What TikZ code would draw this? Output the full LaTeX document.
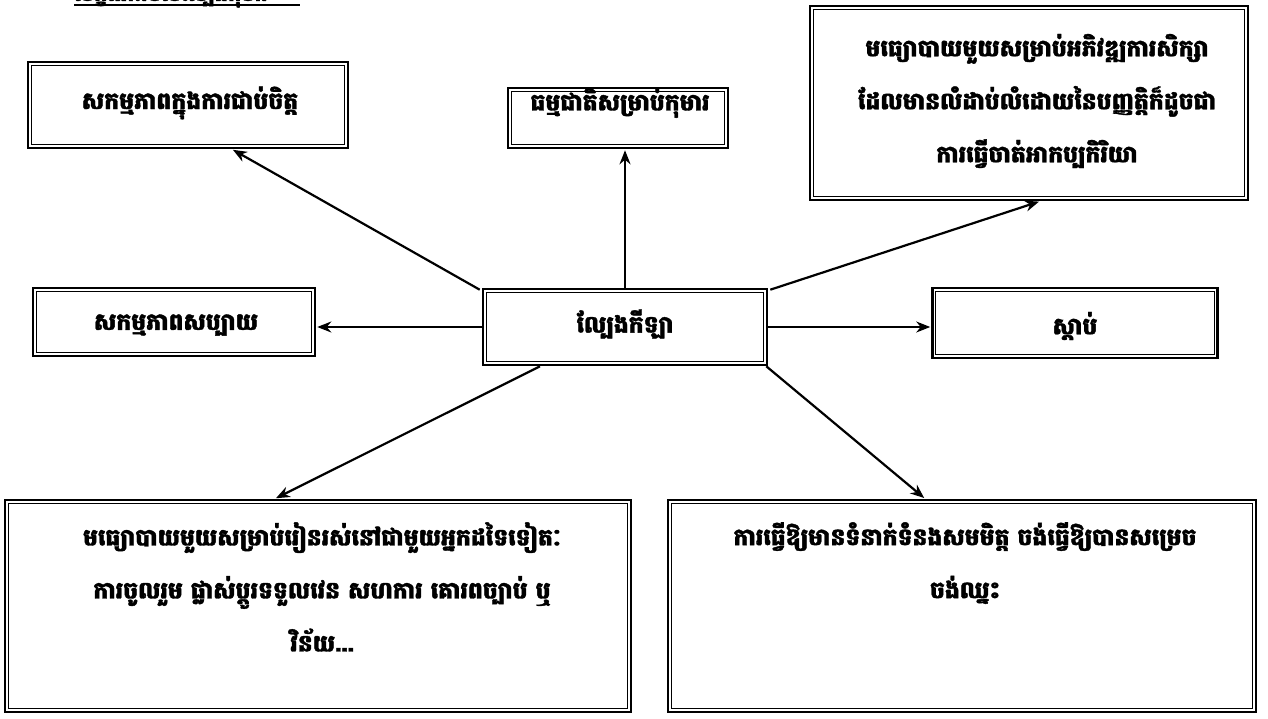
\documentclass[tikz,border=0pt]{standalone}
\usepackage{fontspec}
\newfontfamily\kh[Script=Khmer, FakeBold=1.5]{Battambang}
\usetikzlibrary{arrows.meta}
\begin{document}
\begin{tikzpicture}[x=1pt,y=-1pt,
  box/.style={draw=black, line width=2.6pt, inner sep=0pt},
  txt/.style={inner sep=0pt, align=center, font=\kh\bfseries\fontsize{23.5}{53}\selectfont},
  conn/.style={line width=2.2pt, -{Stealth[length=14pt,width=11pt]}, shorten >=1pt}]
\useasboundingbox (0,0) rectangle (1268,719);
\fill[white] (0,0) rectangle (1268,719);
% title (cut off at the top edge, as in the reference)
\node[anchor=base west, inner sep=0pt, font=\kh\bfseries\itshape\fontsize{21}{22}\selectfont] (title) at (74,1) {លក្ខណៈរបស់ល្បែងកុមារ};
\draw[line width=1.4pt] (title.base west) ++(0,4) -- ++(226,0);
% boxes
\node[box, minimum width=320pt, minimum height=86pt] (tl) at (188,105) {};
\node[box, minimum width=220pt, minimum height=60pt] (tm) at (618,118) {};
\node[box, minimum width=438pt, minimum height=194pt] (tr) at (1029,103) {};
\node[box, minimum width=282pt, minimum height=68pt] (lm) at (174,322) {};
\node[box, minimum width=284pt, minimum height=76pt] (ct) at (625,327) {};
\node[box, minimum width=285pt, minimum height=70pt] (rm) at (1075,323) {};
\node[box, minimum width=626pt, minimum height=212pt] (bl) at (318,606) {};
\node[box, minimum width=588pt, minimum height=212pt] (br) at (962,606) {};
\foreach \n in {tl,tm,tr,lm,ct,rm,bl,br}
  \draw[line width=1pt] ([shift={(4.5,4.5)}]\n.north west) rectangle ([shift={(-4.5,-4.5)}]\n.south east);
% texts
\node[txt] (tlt) at (190,103) {សកម្មភាពក្នុងការជាប់ចិត្ត};
\node[txt] (tmt) at (620,103) {ធម្មជាតិសម្រាប់កុមារ};
\node[txt] (trt) at (1037,101) {មធ្យោបាយមួយសម្រាប់អភិវឌ្ឍការសិក្សា\\ដែលមានលំដាប់លំដោយនៃបញ្ញត្តិក៏ដូចជា\\ការធ្វើចាត់អាកប្បកិរិយា};
\node[txt] (lmt) at (176,325) {សកម្មភាពសប្បាយ};
\node[txt] (ctt) at (625,324) {ល្បែងកីឡា};
\node[txt] (rmt) at (1075,326) {ស្ដាប់};
\node[txt, anchor=north] (blt) at (322,522) {មធ្យោបាយមួយសម្រាប់រៀនរស់នៅជាមួយអ្នកដទៃទៀតៈ\\ការចូលរួម ផ្លាស់ប្តូរទទួលវេន សហការ គោរពច្បាប់ ឬ\\វិន័យ...};
\node[txt, anchor=north] (brt) at (965,522) {ការធ្វើឱ្យមានទំនាក់ទំនងសមមិត្ត ចង់ធ្វើឱ្យបានសម្រេច\\ចង់ឈ្នះ};
% connectors
\draw[conn] ([shift={(-2,2)}]ct.north west) -- ([xshift=44]tl.south);
\draw[conn] (ct.north) -- (ct.north |- tm.south);
\draw[conn] ([shift={(2,2)}]ct.north east) -- ([xshift=11]tr.south);
\draw[conn] (ct.west) -- (ct.west -| lm.east);
\draw[conn] (ct.east) -- (ct.east -| rm.west);
\draw[conn] ([xshift=-85]ct.south) -- ([xshift=-43]bl.north);
\draw[conn] ([xshift=-2]ct.south east) -- ([xshift=-37]br.north);
\end{tikzpicture}
\end{document}
